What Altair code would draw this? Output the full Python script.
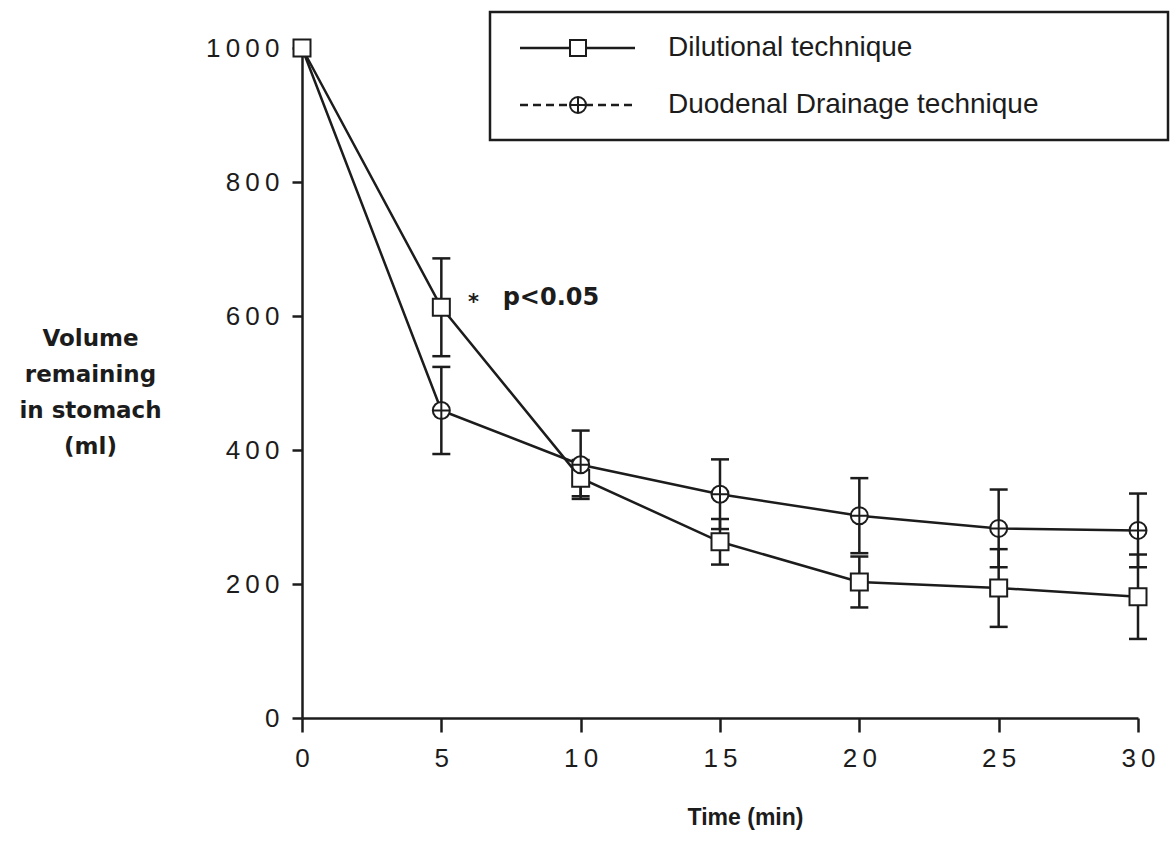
import altair as alt
import pandas as pd

# ---- data ----
times = [0, 5, 10, 15, 20, 25, 30]
dil_mean = [1000, 613, 358, 263, 203, 194, 181]
dil_se = [0, 73, 27, 34, 38, 58, 63]
duo_mean = [1000, 459, 378, 334, 302, 283, 280]
duo_se = [0, 65, 51, 52, 56, 58, 55]

series_names = ["Dilutional technique", "Duodenal Drainage technique"]
x_ticks = [0, 5, 10, 15, 20, 25, 30]
y_ticks = [0, 200, 400, 600, 800, 1000]

ann_x = [6.15, 7.2]
ann_y = [627, 627]
ann_text = ["*", "p<0.05"]

# ---- tables ----
rows = []
for name, means, ses in [(series_names[0], dil_mean, dil_se), (series_names[1], duo_mean, duo_se)]:
    for t, m, s in zip(times, means, ses):
        rows.append({"series": name, "t": t, "v": m, "se": s, "lo": m - s, "hi": m + s})
df = pd.DataFrame(rows)
df_dil = df[df.series == series_names[0]]
df_duo = df[df.series == series_names[1]]
df_ann = pd.DataFrame({"t": ann_x, "v": ann_y, "txt": ann_text})
one = pd.DataFrame({"a": [0]})

INK = "#1c1c1c"
CIRCLE_PLUS = "M-1,0A1,1,0,1,0,1,0A1,1,0,1,0,-1,0Z M-1,0L1,0 M0,-1L0,1"
SPACED = "join(split(toString(datum.value), ''), '\u2009')"

xscale = alt.Scale(domain=[0, 30], nice=False, zero=False)
yscale = alt.Scale(domain=[0, 1000], nice=False)
xaxis = alt.Axis(values=x_ticks, title="Time (min)", tickSize=14, labelPadding=13,
                 labelExpr=SPACED, labelFlush=False, labelOverlap=False,
                 titleX=443, titleY=106, titleBaseline="alphabetic",
                 titleFont="Liberation Sans", titleFontSize=23, titleFontWeight="bold")
yaxis = alt.Axis(values=y_ticks, title=["Volume", "remaining", "in stomach", "(ml)"],
                 tickSize=10, labelPadding=13, labelExpr=SPACED, labelFlush=False,
                 labelOverlap=False,
                 titleAngle=0, titleAlign="center",
                 titleBaseline="alphabetic", titleX=-212, titleY=297, titleLineHeight=36,
                 titleFont="DejaVu Sans", titleFontSize=23, titleFontWeight="bold")


def X(field="t"):
    return alt.X(f"{field}:Q", scale=xscale, axis=xaxis)


def Y(field="v"):
    return alt.Y(f"{field}:Q", scale=yscale, axis=yaxis)


lines = alt.Chart(df).mark_line(color=INK, strokeWidth=2.5).encode(
    x=X(), y=Y(), detail="series:N")

errs = alt.Chart(df).transform_filter("datum.se > 0").mark_rule(color=INK, strokeWidth=2.5).encode(
    x=X(), y=Y("lo"), y2="hi:Q")
cap_hi = alt.Chart(df).transform_filter("datum.se > 0").mark_tick(
    color=INK, orient="horizontal", size=18, thickness=2.5, opacity=1).encode(x=X(), y=Y("hi"))
cap_lo = alt.Chart(df).transform_filter("datum.se > 0").mark_tick(
    color=INK, orient="horizontal", size=18, thickness=2.5, opacity=1).encode(x=X(), y=Y("lo"))

squares = alt.Chart(df_dil).mark_point(shape="square", size=289, filled=True, fill="white",
                                       stroke=INK, strokeWidth=2, opacity=1).encode(x=X(), y=Y())
circles = alt.Chart(df_duo).transform_filter("datum.t > 0").mark_point(
    shape=CIRCLE_PLUS, size=289, filled=True, fill="white", stroke=INK, strokeWidth=2,
    opacity=1).encode(x=X(), y=Y())

ann_star = alt.Chart(df_ann.iloc[[0]]).mark_text(
    font="DejaVu Sans", fontSize=21, fontWeight="bold", color=INK, align="center",
    baseline="middle", dy=5).encode(x=X(), y=Y(), text="txt:N")
ann_p = alt.Chart(df_ann.iloc[[1]]).mark_text(
    font="DejaVu Sans", fontSize=24, fontWeight="bold", color=INK, align="left",
    baseline="middle").encode(x=X(), y=Y(), text="txt:N")

# ---- legend box (drawn by hand, in pixels relative to the plot area) ----
leg_box = alt.Chart(one).mark_rect(fillOpacity=0, stroke=INK, strokeWidth=2.5).encode(
    x=alt.value(188), x2=alt.value(866), y=alt.value(-36), y2=alt.value(92))
leg_l1 = alt.Chart(one).mark_rule(color=INK, strokeWidth=2.5).encode(
    x=alt.value(218), x2=alt.value(333), y=alt.value(0))
leg_l2 = alt.Chart(one).mark_rule(color=INK, strokeWidth=2.5, strokeDash=[8, 5]).encode(
    x=alt.value(218), x2=alt.value(333), y=alt.value(57))
leg_sq = alt.Chart(one).mark_point(shape="square", size=256, filled=True, fill="white",
                                   stroke=INK, strokeWidth=2, opacity=1).encode(
    x=alt.value(276), y=alt.value(0))
leg_ci = alt.Chart(one).mark_point(shape=CIRCLE_PLUS, size=256, filled=True, fill="white",
                                   stroke=INK, strokeWidth=2, opacity=1).encode(
    x=alt.value(276), y=alt.value(57))
leg_t1 = alt.Chart(one).mark_text(font="Liberation Sans", fontSize=28, color=INK, align="left",
                                  baseline="middle", text=series_names[0]).encode(
    x=alt.value(366), y=alt.value(0))
leg_t2 = alt.Chart(one).mark_text(font="Liberation Sans", fontSize=28, color=INK, align="left",
                                  baseline="middle", text=series_names[1]).encode(
    x=alt.value(366), y=alt.value(57))

chart = alt.layer(
    lines, errs, cap_hi, cap_lo, squares, circles, ann_star, ann_p,
    leg_box, leg_l1, leg_l2, leg_sq, leg_ci, leg_t1, leg_t2
).properties(
    width=836, height=670,
    autosize=alt.AutoSizeParams(type="none"),
    padding={"left": 302, "top": 48, "right": 33, "bottom": 143},
    background="white",
).configure_view(strokeWidth=0).configure_axis(
    grid=False, domainColor=INK, domainWidth=2.5, tickColor=INK, tickWidth=2.5,
    labelFont="Liberation Sans", labelFontSize=26, labelColor=INK, titleColor=INK,
)

chart.save("out.html", embed_options={"renderer": "svg", "actions": False})
